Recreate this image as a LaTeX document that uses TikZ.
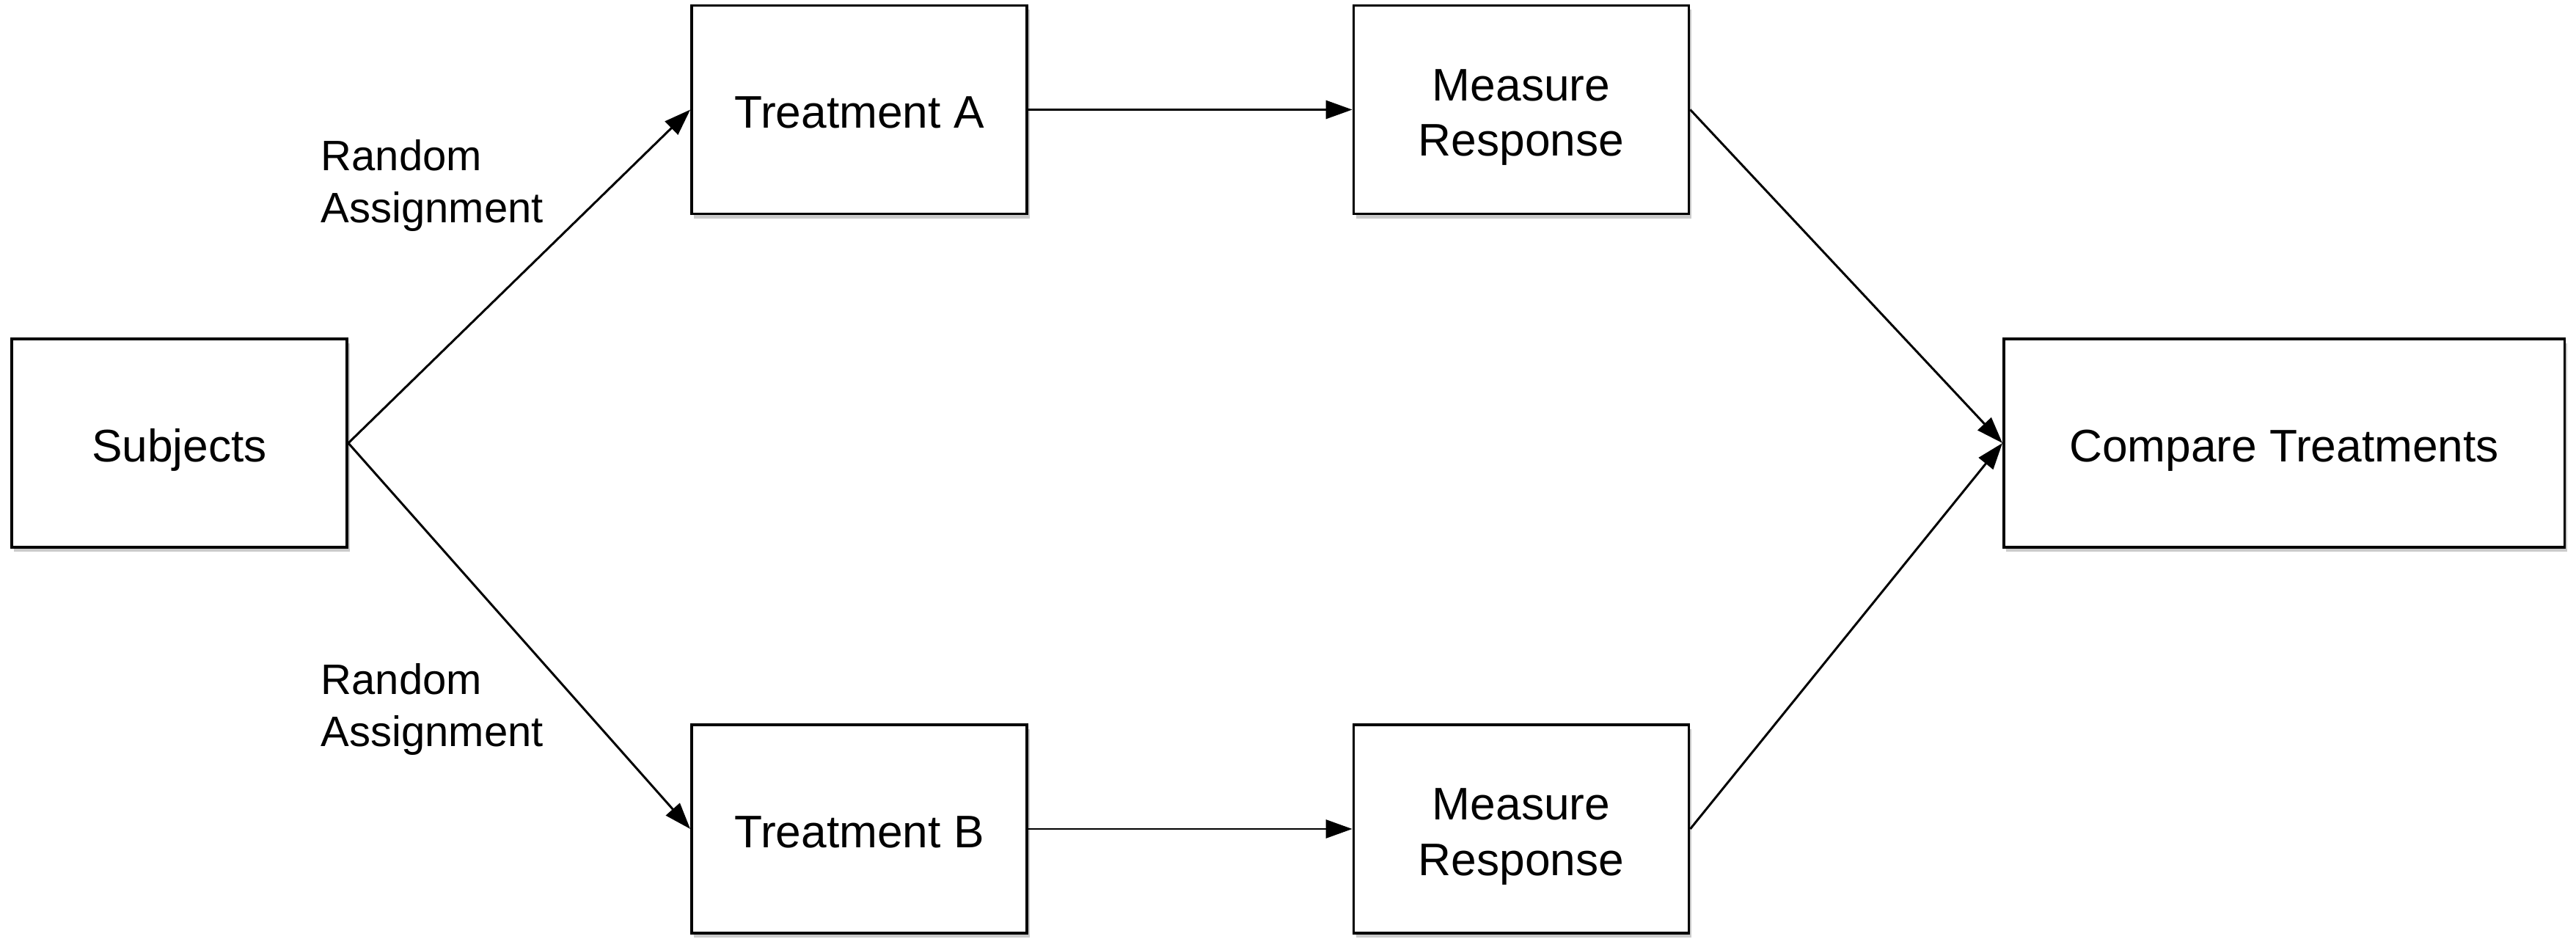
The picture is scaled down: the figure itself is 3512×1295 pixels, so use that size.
\documentclass[tikz,border=0pt]{standalone}
\usepackage{fontspec}
\setmainfont{Liberation Sans}
\usetikzlibrary{arrows.meta,shadows}
\newcommand\boxtxt[1]{\raisebox{-2.9pt}[\height][\depth]{\begin{tabular}{@{}c@{}}#1\end{tabular}}}
\begin{document}
\begin{tikzpicture}[x=0.01cm,y=-0.01cm,
 box/.style={draw=black, line width=1pt, fill=white, minimum width=4.57cm, minimum height=2.84cm, inner sep=0pt, font=\fontsize{17.7}{21.5}\selectfont, drop shadow={shadow xshift=0.035cm, shadow yshift=-0.06cm, fill=black!45, opacity=0.45}},
 lab/.style={align=left, inner sep=0pt, anchor=north west, font=\fontsize{16.5}{20}\selectfont},
 conn/.style={line width=0.85pt, -{Triangle[length=0.36cm,width=0.25cm]}}]
\useasboundingbox (0,0) rectangle (3512,1295);
\node[box] (subj) at (244.5,604) {\boxtxt{Subjects}};
\node[box] (ta) at (1171.5,149.5) {\boxtxt{Treatment A}};
\node[box] (mra) at (2074,149.5) {\boxtxt{Measure\\Response}};
\node[box] (tb) at (1171.5,1130) {\boxtxt{Treatment B}};
\node[box] (mrb) at (2074,1130) {\boxtxt{Measure\\Response}};
\node[box, minimum width=7.64cm] (cmp) at (3114,604) {\boxtxt{Compare Treatments}};
\node[lab] (la) at (437,190) {Random\\Assignment};
\node[lab] (lb) at (437,904) {Random\\Assignment};
\draw[conn] (subj.east) -- (ta.west);
\draw[conn] (subj.east) -- (tb.west);
\draw[conn] (ta.east) -- (mra.west);
\draw[conn] (tb.east) -- (mrb.west);
\draw[conn] (mra.east) -- (cmp.west);
\draw[conn] (mrb.east) -- (cmp.west);
\end{tikzpicture}
\end{document}
